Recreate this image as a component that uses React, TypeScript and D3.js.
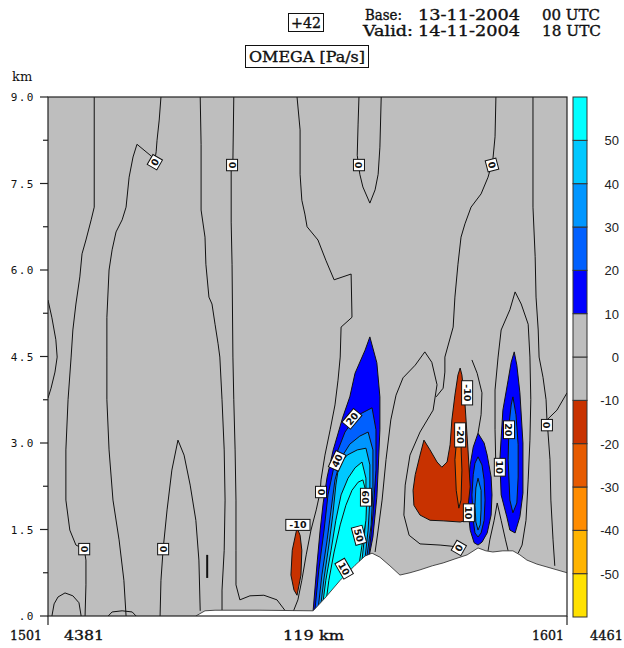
import React from "react";
import * as d3 from "d3";

// ---------------- data ----------------
const sectionKm = 119;
const topKm = 9;
const yTickValues = [0, 1.5, 3, 4.5, 6, 7.5, 9];
const yTickLabels = [".0", "1.5", "3.0", "4.5", "6.0", "7.5", "9.0"];
const yMinorTicks = [0.75, 2.25, 3.75, 5.25, 6.75, 8.25];
const levelBounds = [-60, -50, -40, -30, -20, -10, 0, 10, 20, 30, 40, 50, 60];
const levelColors = ["#FFE100", "#FFB400", "#FF8C00", "#E65A00", "#C83200", "#BEBEBE", "#BEBEBE", "#0000FF", "#0060FF", "#0096FF", "#00C8FF", "#00FFFF"];
const levelTickLabels = [-50, -40, -30, -20, -10, 0, 10, 20, 30, 40, 50];
const forecastStep = "+42";
const baseDate = ["Base:", "13-11-2004", "00 UTC"];
const validDate = ["Valid:", "14-11-2004", "18 UTC"];
const fieldTitle = "OMEGA [Pa/s]";
const bottomLabels = ["1501", "4381", "119 km", "1601", "4461"];

// terrain profile [km along section, height km]
const terrain = [[33.9,0],[36.0,0.09],[38.3,0.10],[48.6,0.10],[60.8,0.09],[63.5,0.31],[67.0,0.62],[70.4,0.88],[72.7,1.04],[74.3,1.09],[76.1,1.02],[78.4,0.87],[80.7,0.71],[83.0,0.75],[85.3,0.80],[88.1,0.87],[90.6,0.92],[93.3,0.99],[96.1,1.06],[98.6,1.18],[100.4,1.13],[102.0,1.11],[104.3,1.13],[106.6,1.13],[108.2,1.06],[109.8,0.97],[112.1,0.90],[114.4,0.85],[116.7,0.80],[119,0.75]];

// filled regions (value level polygons)
const plume1L10 = [[73.8,4.84],[75.4,4.39],[76.1,3.80],[76.1,3.23],[75.7,2.53],[75.4,2.06],[74.5,1.37],[73.6,1.02],[72.9,0.71],[64.7,0],[60.8,0],[60.8,0.10],[61.7,0.92],[62.4,1.49],[63.1,1.96],[64.0,2.41],[65.4,2.88],[67.6,3.45],[69.2,3.80],[70.4,4.21],[72.7,4.61]];
const plume1L20 = [[74.3,3.61],[75.2,3.23],[75.2,2.53],[74.5,1.75],[73.6,1.06],[72.9,0.62],[62.4,0],[61.2,0.10],[62.1,0.80],[63.3,1.49],[64.2,2.10],[65.4,2.53],[66.5,2.88],[68.1,3.19],[69.7,3.36],[71.5,3.50]];
const plume1L30 = [[73.4,3.19],[74.5,2.88],[74.5,2.18],[74.1,1.58],[73.1,1.02],[72.5,0.62],[63.3,0],[61.9,0.10],[62.8,0.71],[64.0,1.32],[64.9,1.84],[65.8,2.36],[67.2,2.74],[69.2,2.98],[71.5,3.12]];
const plume1L40 = [[72.9,2.91],[73.8,2.62],[73.8,2.01],[73.4,1.49],[72.7,1.01],[72.0,0.62],[63.7,0],[62.4,0.10],[63.3,0.66],[64.4,1.23],[65.3,1.75],[66.0,2.27],[66.7,2.62],[68.6,2.79],[70.9,2.88]];
const plume1L50 = [[72.0,2.67],[72.9,2.39],[72.9,1.84],[72.5,1.32],[72.0,0.97],[71.5,0.62],[64.2,0],[62.8,0.10],[63.7,0.62],[64.9,1.14],[66.0,1.66],[67.2,2.10],[68.8,2.39],[70.4,2.57]];
const plume1L60 = [[72.2,2.36],[73.1,2.10],[72.9,1.66],[72.0,1.23],[71.3,0.88],[70.6,0.54],[64.7,0],[63.5,0.10],[64.4,0.62],[65.6,1.11],[67.0,1.58],[68.3,1.92],[69.7,2.18],[71.1,2.32]];
const plume2L10 = [[98.6,3.17],[100.0,3.00],[100.7,2.79],[101.6,2.41],[101.8,2.10],[101.6,1.75],[100.7,1.44],[99.5,1.28],[98.6,1.23],[97.7,1.27],[96.8,1.49],[96.3,1.84],[96.3,2.24],[96.8,2.62],[97.5,2.93]];
const plume2L20 = [[98.6,2.76],[99.5,2.62],[100.0,2.36],[100.2,2.01],[100.0,1.66],[99.3,1.44],[98.6,1.37],[97.9,1.44],[97.5,1.66],[97.2,2.10],[97.5,2.45],[97.9,2.65]];
const plume2L30 = [[98.6,2.39],[99.3,2.18],[99.3,1.84],[99.1,1.58],[98.6,1.49],[98.1,1.63],[97.9,1.92],[98.1,2.22]];
const plume3L10 = [[106.9,4.58],[107.5,4.35],[108.2,3.87],[108.9,3.00],[108.9,2.13],[108.2,1.72],[107.1,1.44],[105.9,1.49],[105.2,1.72],[103.9,2.10],[103.6,2.71],[104.3,3.57],[105.5,4.09],[106.2,4.40]];
const plume3L20 = [[106.6,3.80],[107.3,3.49],[107.8,2.97],[107.8,2.41],[107.5,1.96],[106.6,1.79],[105.9,2.01],[105.5,2.71],[105.7,3.31],[106.2,3.66]];
const redSmall = [[57.1,1.53],[56.0,1.14],[55.7,0.71],[56.4,0.45],[57.1,0.36],[58.0,0.71],[58.2,1.14],[57.8,1.40]];
const redBig = [[94.5,4.30],[94.9,4.18],[95.6,3.69],[96.3,2.88],[96.8,2.24],[96.3,1.89],[96.1,1.66],[94.5,1.63],[90.6,1.65],[87.6,1.66],[85.3,1.75],[83.9,1.92],[83.7,2.18],[84.2,2.45],[85.3,2.79],[86.2,3.05],[87.6,2.88],[89.2,2.67],[90.3,2.58],[91.5,2.67],[92.2,2.97],[92.6,3.40],[93.3,3.83],[94.0,4.18]];
const orangeStrip = [[94.0,3.05],[94.7,2.95],[94.9,2.53],[94.7,2.01],[94.2,1.87],[93.6,2.18],[93.3,2.71],[93.6,2.97]];

// zero contour lines
const zLeftBump = [[0,5.48],[0.9,5.17],[1.8,4.79],[2.1,4.49],[1.6,4.23],[0.7,3.95],[0,3.78]];
const zLineA = [[10.6,9.0],[10.6,7.09],[9.9,6.87],[8.7,6.52],[7.8,6.28],[7.3,5.88],[6.4,5.41],[5.7,4.96],[5.3,4.49],[4.6,3.75],[4.1,2.88],[4.1,2.01],[5.0,1.49],[6.4,1.23],[8.3,1.16],[8.7,0.97],[8.7,0.54],[8.5,0]];
const zArch = [[0.9,0],[1.4,0.21],[2.3,0.33],[3.9,0.40],[5.7,0.35],[7.1,0.23],[7.6,0]];
const zLineB = [[25.9,9.0],[25.5,8.60],[25.0,8.25],[24.8,8.05],[24.5,7.91],[23.6,7.98],[20.4,8.18],[19.5,7.96],[18.6,7.61],[17.9,7.09],[17.0,6.87],[15.6,6.66],[14.7,6.35],[14.0,6.00],[13.5,5.18],[13.5,4.49],[13.5,3.75],[14.0,2.88],[14.9,2.01],[16.3,1.32],[17.4,0.62],[17.9,0]];
const zBump = [[13.8,0],[14.7,0.07],[17.0,0.09],[19.3,0.07],[20.2,0]];
const zVee = [[25.7,0],[25.9,0.62],[26.4,1.16],[27.3,1.84],[28.4,2.53],[29.8,3.05],[31.2,2.79],[32.6,2.27],[33.9,1.66],[34.6,0.97],[34.9,0.09]];
const zTiny = [[36.5,1.06],[36.5,0.66]];
const zLineC = [[34.9,9.0],[35.1,8.18],[35.1,7.04],[36.0,6.57],[36.2,6.10],[36.9,5.53],[37.6,5.41],[38.3,5.06],[39.0,4.72],[39.4,4.49],[39.9,3.75],[40.4,2.88],[40.6,2.01],[40.4,1.14],[39.9,0.45],[39.9,0.10]];
const zLineD = [[42.6,9.0],[42.4,7.91],[42.0,7.73],[42.0,6.83],[42.2,6.10],[42.4,4.49],[42.6,3.75],[42.9,2.88],[43.1,2.01],[43.1,1.14],[43.1,0.54],[44.0,0.28],[46.3,0.35],[49.5,0.36],[52.5,0.28],[53.9,0.14],[54.3,0.10]];
const zLineE = [[57.1,9.0],[57.8,8.43],[57.8,7.66],[58.2,7.21],[58.9,6.97],[59.4,6.75],[61.9,6.52],[63.7,6.17],[65.6,5.83],[69.5,5.93],[69.7,5.18],[67.2,5.01],[67.0,4.49],[66.5,4.09],[65.8,3.66],[64.7,3.23],[63.5,2.79],[62.6,2.36],[62.4,2.15],[61.5,1.84],[60.3,1.49],[59.2,1.06],[58.2,0.62],[57.3,0.28],[56.2,0.07]];
const zLineF = [[71.3,9.0],[71.1,8.53],[70.9,7.99],[71.5,7.66],[72.2,7.44],[73.8,7.16],[75.0,7.39],[75.7,7.66],[76.1,8.13],[76.4,9.0]];
const zLineG = [[102.7,9.0],[102.5,8.31],[102.0,7.91],[100.9,7.61],[99.3,7.32],[97.0,7.09],[95.6,6.80],[94.7,6.57],[94.0,6.10],[93.3,5.53],[92.9,5.01],[91.0,4.49],[91.0,4.23],[90.6,3.95],[89.0,3.80]];
const zLineP = [[75.0,1.11],[75.7,1.49],[76.6,2.01],[77.5,2.71],[78.6,3.40],[79.8,3.83],[81.4,4.13],[84.2,4.35],[86.4,4.58],[88.0,4.40],[89.2,4.01],[88.3,3.57],[85.3,3.19],[83.0,2.79],[81.9,2.27],[81.6,1.75],[82.8,1.40],[85.3,1.25],[89.9,1.23],[92.6,1.21],[94.2,1.18],[95.2,1.11]];
const zLineQ = [[97.2,4.44],[98.4,4.21],[99.5,3.87],[99.3,3.49],[98.6,3.17]];
const zLineH = [[111.2,9.0],[111.2,7.09],[111.7,6.23],[111.9,5.53],[112.4,4.96],[112.6,4.49],[113.5,4.14],[114.2,3.75],[114.4,3.40],[116.7,3.57],[119,3.87]];
const zLineH2 = [[114.6,3.23],[115.1,2.71],[115.3,2.01],[115.8,1.32],[116.2,0.87]];
const zLineL3 = [[102.7,2.53],[102.5,3.23],[102.5,3.92],[103.2,4.49],[103.9,4.96],[105.9,5.31],[107.1,5.62],[108.5,5.41],[110.1,5.06],[110.5,4.49],[110.7,3.75],[110.5,3.05],[110.1,2.36],[109.6,1.66],[108.7,1.23],[107.8,1.09]];
const zVee23 = [[100.9,1.13],[101.3,1.32],[102.3,1.66],[103.0,1.96],[103.9,1.66],[104.9,1.32],[105.5,1.13]];

const contourLabels = [
  { km: 24.5, h: 7.87, t: "0", r: -60 },
  { km: 42.2, h: 7.82, t: "0", r: 90 },
  { km: 71.3, h: 7.82, t: "0", r: 90 },
  { km: 101.8, h: 7.82, t: "0", r: 75 },
  { km: 8.3, h: 1.16, t: "0", r: 90 },
  { km: 26.4, h: 1.16, t: "0", r: 90 },
  { km: 62.6, h: 2.15, t: "0", r: 90 },
  { km: 57.3, h: 1.58, t: "-10", r: 0 },
  { km: 69.7, h: 3.42, t: "20", r: -50 },
  { km: 66.3, h: 2.69, t: "40", r: -65 },
  { km: 72.9, h: 2.06, t: "60", r: 90 },
  { km: 71.3, h: 1.40, t: "50", r: 75 },
  { km: 67.9, h: 0.82, t: "10", r: 60 },
  { km: 96.1, h: 3.87, t: "-10", r: 90 },
  { km: 94.5, h: 3.14, t: "-20", r: 90 },
  { km: 96.5, h: 1.79, t: "10", r: 90 },
  { km: 103.6, h: 2.58, t: "10", r: 90 },
  { km: 105.7, h: 3.23, t: "20", r: 90 },
  { km: 114.4, h: 3.31, t: "0", r: 90 },
  { km: 94.2, h: 1.18, t: "0", r: -60 },
];

const filledRegions = [
  { pts: plume1L10, v: 15 }, { pts: plume1L20, v: 25 }, { pts: plume1L30, v: 35 }, { pts: plume1L40, v: 45 }, { pts: plume1L50, v: 55 }, { pts: plume1L60, v: 58 },
  { pts: plume2L10, v: 15 }, { pts: plume2L20, v: 25 }, { pts: plume2L30, v: 35 },
  { pts: plume3L10, v: 15 }, { pts: plume3L20, v: 25 },
  { pts: redSmall, v: -15 }, { pts: redBig, v: -15 }, { pts: orangeStrip, v: -25 },
];
const zeroLines = [zLeftBump, zLineA, zArch, zLineB, zBump, zVee, zLineC, zLineD, zLineE, zLineF, zLineG, zLineP, zLineQ, zLineH, zLineH2, zLineL3, zVee23];

// ---------------- chart ----------------
const PL = 48, PR = 567, PT = 97, PB = 616;

export default function App() {
  const x = d3.scaleLinear().domain([0, sectionKm]).range([PL, PR]);
  const y = d3.scaleLinear().domain([0, topKm]).range([PB, PT]);
  const color = d3.scaleThreshold<number, string>().domain(levelBounds.slice(1, -1)).range(levelColors);
  const lineGen = d3.line<number[]>().x((d) => x(d[0])).y((d) => y(d[1]));
  const poly = (p: number[][]) => lineGen(p) + "Z";
  const terrainPath = poly([...terrain, [sectionKm, 0], [terrain[0][0], 0]]);
  const cb = d3.scaleLinear().domain([-60, 60]).range([617, 97]);
  const serif = "DejaVu Serif";
  const mono = "DejaVu Sans Mono";
  const hdrProps = { fontFamily: serif, fontSize: 14, fill: "#111", stroke: "#111", strokeWidth: 0.35, lengthAdjust: "spacingAndGlyphs" } as any;

  return (
    <svg width={624} height={648} style={{ position: "absolute", left: 0, top: 0, display: "block" }} viewBox="0 0 624 648">
      <rect x={0} y={0} width={624} height={648} fill="#fff" />
      <defs>
        <clipPath id="plot"><rect x={PL} y={PT} width={PR - PL} height={PB - PT} /></clipPath>
      </defs>
      <g clipPath="url(#plot)">
        <rect x={PL} y={PT} width={PR - PL} height={PB - PT} fill="#BEBEBE" />
        {filledRegions.map((r, i) => (
          <path key={i} d={poly(r.pts)} fill={color(r.v)} stroke="#111" strokeWidth={1} />
        ))}
        {zeroLines.map((l, i) => (
          <path key={i} d={lineGen(l) || ""} fill="none" stroke="#111" strokeWidth={1} />
        ))}
        <path d={lineGen(zTiny) || ""} fill="none" stroke="#111" strokeWidth={2} />
        <path d={terrainPath} fill="#fff" stroke="none" />
        <path d={lineGen(terrain) || ""} fill="none" stroke="#222" strokeWidth={0.8} />
        {contourLabels.map((c, i) => {
          const w = c.t.length * 6.4 + 5;
          const h = 11;
          return (
            <g key={i} transform={`translate(${x(c.km)},${y(c.h)}) rotate(${c.r})`}>
              <rect x={-w / 2} y={-h / 2} width={w} height={h} fill="#fff" stroke="#111" strokeWidth={1} />
              <text x={0} y={3.5} textAnchor="middle" fontFamily="DejaVu Sans" fontWeight="bold" fontSize={9.5} fill="#111">{c.t}</text>
            </g>
          );
        })}
      </g>
      {/* frame */}
      <rect x={PL} y={PT} width={PR - PL} height={PB - PT} fill="none" stroke="#222" strokeWidth={1.2} />
      {/* y axis ticks */}
      {yTickValues.map((v, i) => (
        <g key={i}>
          <line x1={PL - 8} x2={PL} y1={y(v)} y2={y(v)} stroke="#222" strokeWidth={1.2} />
          <text x={35} y={y(v) + 4} textAnchor="end" fontFamily={mono} fontSize={11} letterSpacing={1.5} fill="#111">{yTickLabels[i]}</text>
        </g>
      ))}
      {yMinorTicks.map((v, i) => (
        <line key={i} x1={PL - 5} x2={PL} y1={y(v)} y2={y(v)} stroke="#222" strokeWidth={1.2} />
      ))}
      <text x={12} y={81} fontFamily={serif} fontSize={13} fill="#111">km</text>
      {/* bottom axis */}
      <line x1={PL} x2={PL} y1={PB} y2={PB + 9} stroke="#222" strokeWidth={1.2} />
      <line x1={PR} x2={PR} y1={PB} y2={PB + 9} stroke="#222" strokeWidth={1.2} />
      <text x={10} y={640} {...hdrProps} fontSize={13} textLength={32}>{bottomLabels[0]}</text>
      <text x={64} y={640} {...hdrProps} fontSize={13} textLength={40}>{bottomLabels[1]}</text>
      <text x={283} y={640} {...hdrProps} fontSize={13} textLength={61}>{bottomLabels[2]}</text>
      <text x={532} y={640} {...hdrProps} fontSize={13} textLength={32}>{bottomLabels[3]}</text>
      <text x={590} y={640} {...hdrProps} fontSize={13} textLength={33}>{bottomLabels[4]}</text>
      {/* colour bar */}
      {levelColors.map((c, i) => (
        <rect key={i} x={573} y={cb(levelBounds[i + 1])} width={14} height={cb(levelBounds[i]) - cb(levelBounds[i + 1])} fill={c} stroke="#333" strokeWidth={1} />
      ))}
      {levelTickLabels.map((v, i) => (
        <text key={i} x={619} y={cb(v) + 5} textAnchor="end" fontFamily="Liberation Sans" fontSize={13} fill="#222">{String(v)}</text>
      ))}
      {/* header */}
      <rect x={288.5} y={13.5} width={35} height={18} fill="#fff" stroke="#111" strokeWidth={1} />
      <text x={291} y={28} {...hdrProps} textLength={30}>{forecastStep}</text>
      <text x={365} y={20} {...hdrProps} textLength={37}>{baseDate[0]}</text>
      <text x={418} y={20} {...hdrProps} textLength={102}>{baseDate[1]}</text>
      <text x={542} y={20} {...hdrProps} textLength={58}>{baseDate[2]}</text>
      <text x={363} y={36} {...hdrProps} textLength={50}>{validDate[0]}</text>
      <text x={418} y={36} {...hdrProps} textLength={102}>{validDate[1]}</text>
      <text x={542} y={36} {...hdrProps} textLength={59}>{validDate[2]}</text>
      <rect x={245.5} y={45.5} width={123} height={22} fill="#fff" stroke="#111" strokeWidth={1} />
      <text x={249} y={62} {...hdrProps} textLength={116}>{fieldTitle}</text>
    </svg>
  );
}
